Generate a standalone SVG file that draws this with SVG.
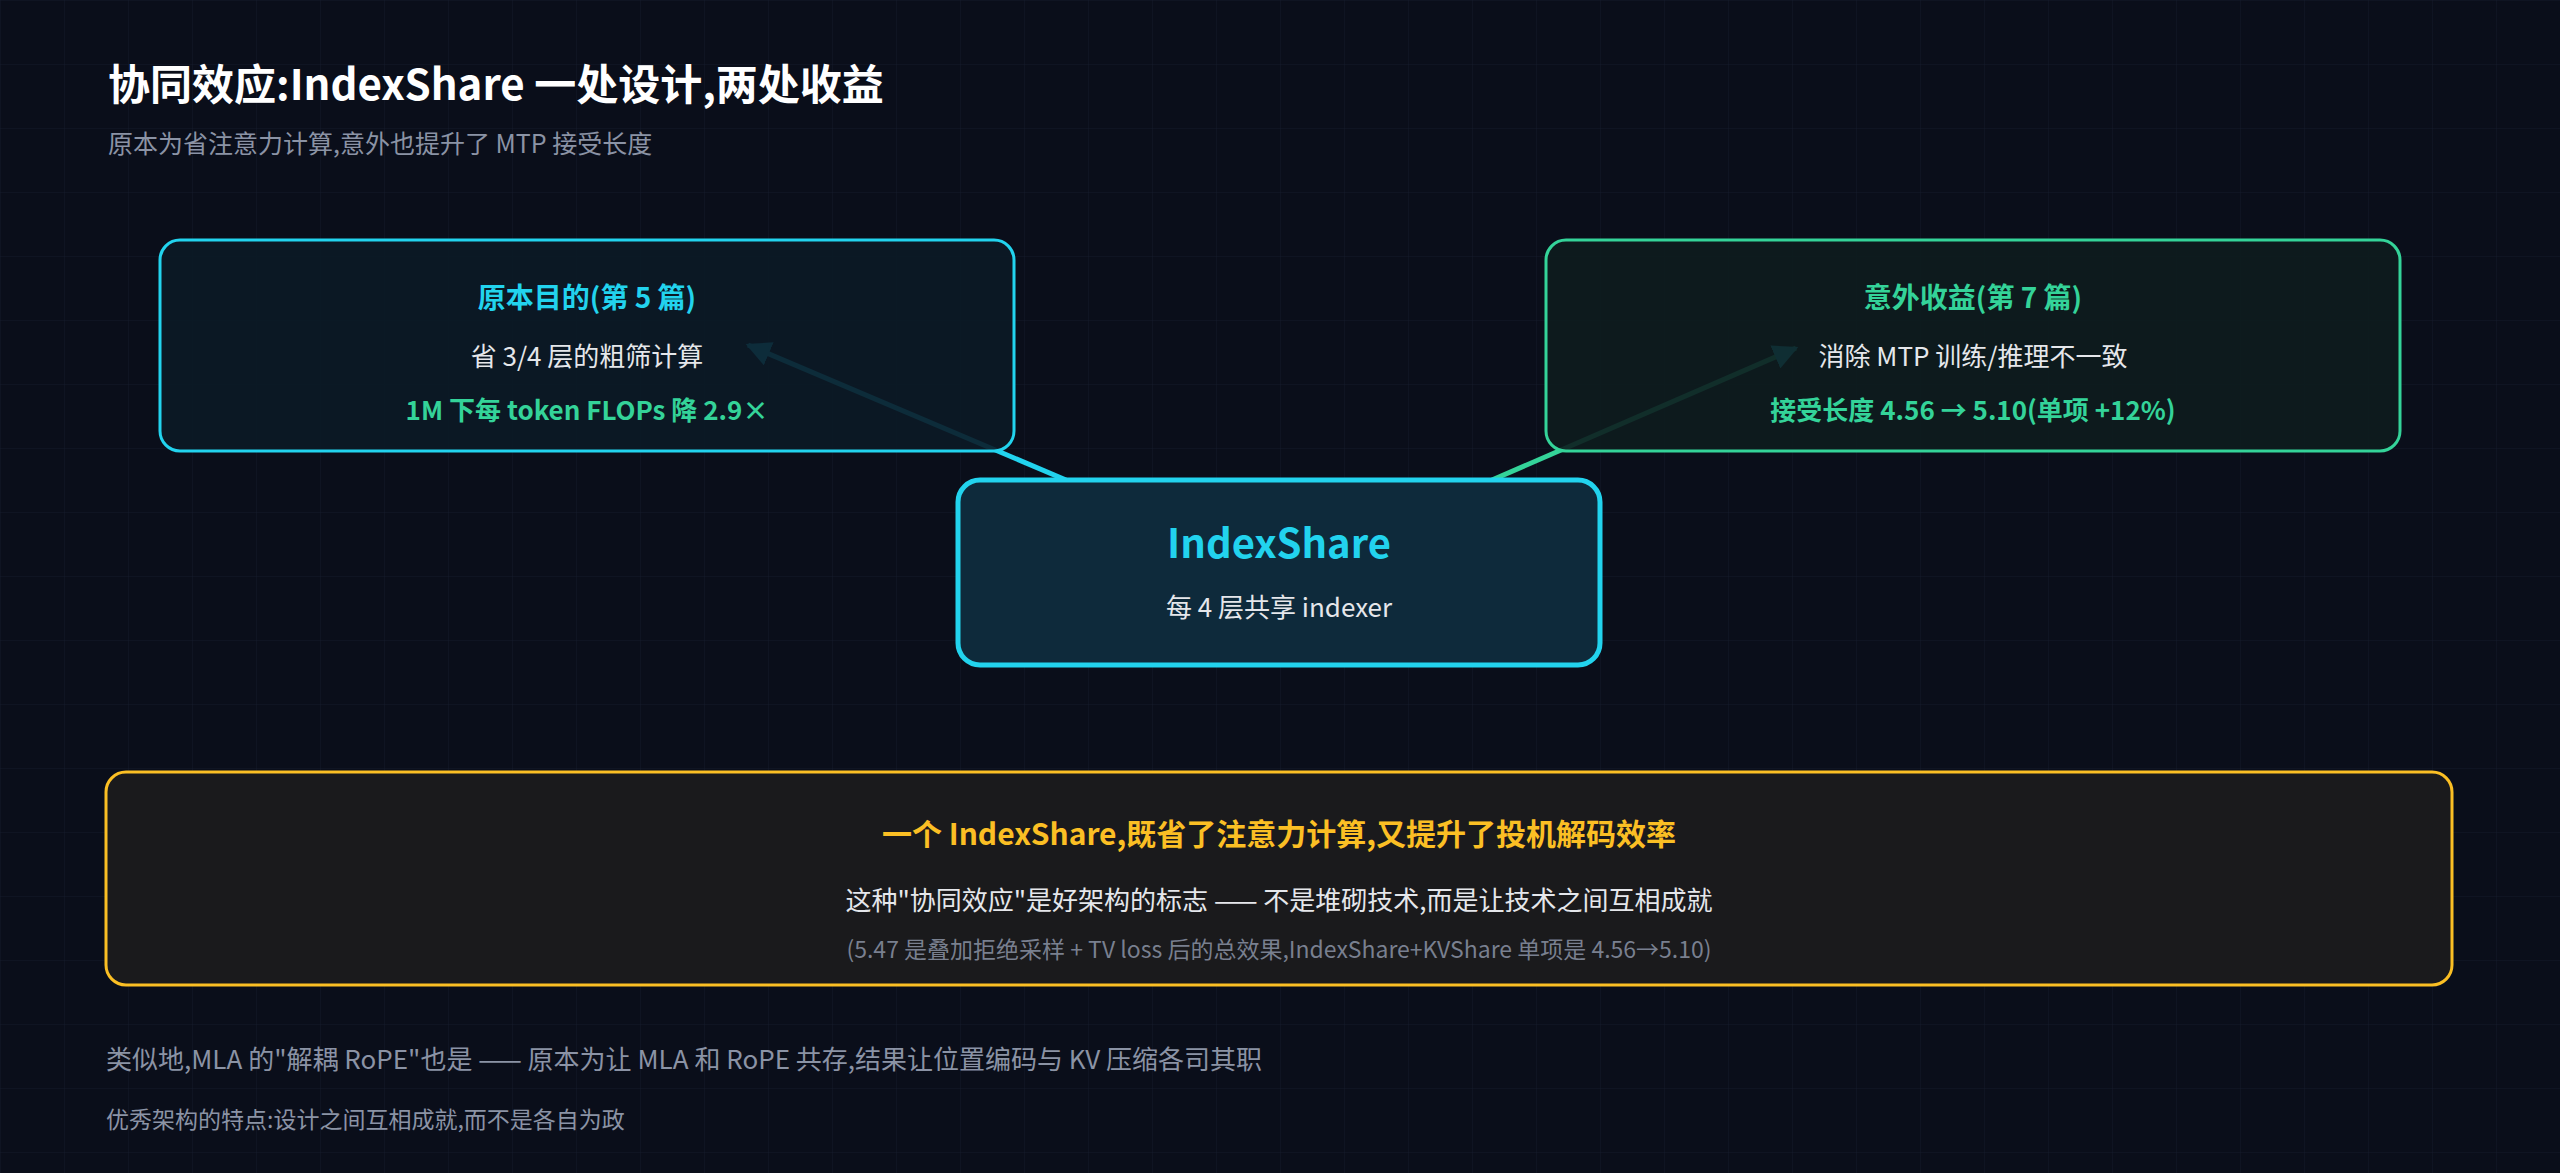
<svg xmlns="http://www.w3.org/2000/svg" width="2560" height="1173" viewBox="0 0 2560 1173">
<defs>
<pattern id="grid" width="64" height="64" patternUnits="userSpaceOnUse"><path d="M64 0H0V64" fill="none" stroke="#141a2a" stroke-width="1"/></pattern>
<marker id="ah" viewBox="0 0 10 10" refX="9" refY="5" markerWidth="5" markerHeight="5" orient="auto" markerUnits="strokeWidth"><path d="M0 0L10 5L0 10z" fill="#22d3ee"/></marker>
<style>
text{font-family:"Noto Sans CJK SC","Noto Sans",sans-serif;text-anchor:middle}
.l{text-anchor:start}
.w{fill:#e5e7eb}
.g{fill:#34d399}
.c{fill:#22d3ee}
.m{fill:#8b93a5}
.b{font-weight:700}
</style>
</defs>
<rect width="2560" height="1173" fill="#0a0e1a"/>
<rect width="2560" height="1173" fill="url(#grid)"/>
<text class="l b" x="108" y="100" font-size="42" fill="#ffffff">协同效应:IndexShare 一处设计,两处收益</text>
<text class="l m" x="108" y="153" font-size="25">原本为省注意力计算,意外也提升了 MTP 接受长度</text>
<g id="connectors">
<line x1="1066" y1="480" x2="748" y2="345" stroke="#22d3ee" stroke-width="5" marker-end="url(#ah)"/>
<line x1="1492" y1="480" x2="1796" y2="348" stroke="#34d399" stroke-width="5" marker-end="url(#ah)"/>
</g>
<g id="purpose">
<rect x="160" y="240" width="854" height="211" rx="20" fill="#0b1a26" fill-opacity="0.9" stroke="#22d3ee" stroke-width="3"/>
<text class="c b" x="587" y="308" font-size="28">原本目的(第 5 篇)</text>
<text class="w" x="587" y="366" font-size="26">省 3/4 层的粗筛计算</text>
<text class="g b" x="587" y="420" font-size="26">1M 下每 token FLOPs 降 2.9×</text>
</g>
<g id="benefit">
<rect x="1546" y="240" width="854" height="211" rx="20" fill="#0d1c1e" fill-opacity="0.9" stroke="#34d399" stroke-width="3"/>
<text class="g b" x="1973" y="308" font-size="28">意外收益(第 7 篇)</text>
<text class="w" x="1973" y="366" font-size="26">消除 MTP 训练/推理不一致</text>
<text class="g b" x="1973" y="420" font-size="26">接受长度 4.56 → 5.10(单项 +12%)</text>
</g>
<g id="indexshare">
<rect x="958" y="480" width="642" height="185" rx="22" fill="#0e2a3b" stroke="#22d3ee" stroke-width="5"/>
<text class="c b" x="1279" y="558" font-size="40">IndexShare</text>
<text class="w" x="1279" y="617" font-size="26">每 4 层共享 indexer</text>
</g>
<g id="summary">
<rect x="106" y="772" width="2346" height="213" rx="20" fill="#1a1a1c" stroke="#fbbf24" stroke-width="3"/>
<text class="b" x="1279" y="845" font-size="30" fill="#fbbf24">一个 IndexShare,既省了注意力计算,又提升了投机解码效率</text>
<text class="w" x="1279" y="910" font-size="26">这种"协同效应"是好架构的标志 —— 不是堆砌技术,而是让技术之间互相成就</text>
<text class="m" x="1279" y="958" font-size="23" fill-opacity="0.85">(5.47 是叠加拒绝采样 + TV loss 后的总效果,IndexShare+KVShare 单项是 4.56→5.10)</text>
</g>
<text class="l m" x="106" y="1069" font-size="26">类似地,MLA 的"解耦 RoPE"也是 —— 原本为让 MLA 和 RoPE 共存,结果让位置编码与 KV 压缩各司其职</text>
<text class="l m" x="106" y="1128" font-size="23">优秀架构的特点:设计之间互相成就,而不是各自为政</text>
</svg>
